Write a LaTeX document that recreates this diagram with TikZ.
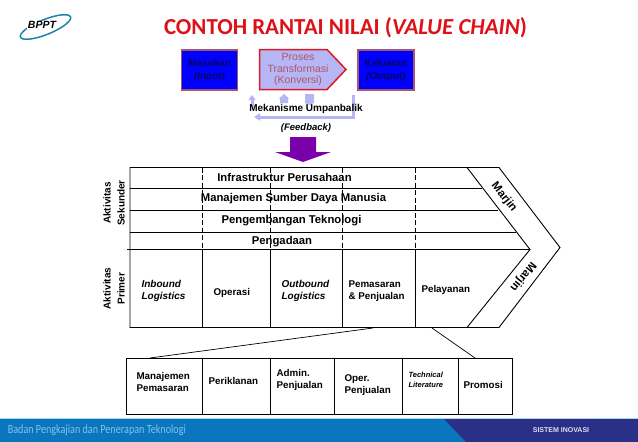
\documentclass[tikz,border=0pt]{standalone}
\usepackage{fontspec}
\setmainfont{Liberation Sans}
\newfontfamily\titlefont{Carlito}
\usetikzlibrary{arrows.meta,positioning,shapes.geometric}
\definecolor{titlered}{RGB}{222,16,24}
\definecolor{boxmauve}{RGB}{166,84,112}
\definecolor{inkblue}{RGB}{6,6,96}
\definecolor{lavblue}{RGB}{182,182,244}
\definecolor{prosesred}{RGB}{176,84,104}
\definecolor{borderred}{RGB}{220,24,40}
\definecolor{arrowpurple}{RGB}{122,0,170}
\definecolor{footblue}{RGB}{10,118,190}
\definecolor{footdark}{RGB}{42,48,136}
\definecolor{footlight}{RGB}{130,195,235}
\definecolor{logoteal}{RGB}{28,132,168}
\tikzset{
  titletext/.style={text=titlered,font=\titlefont\fontsize{22.9}{25}\selectfont\bfseries},
  ioblock/.style={rectangle,draw=boxmauve,line width=1.3pt,fill=blue,outer sep=0pt,minimum width=56pt,minimum height=40pt,align=center,text=inkblue,font=\fontsize{10}{13}\selectfont\bfseries},
  prosesblock/.style={draw=borderred,line width=1.5pt,fill=lavblue,line join=miter},
  prosestext/.style={align=center,text=prosesred,font=\fontsize{10.5}{11.6}\selectfont},
  fbarrow/.style={draw=lavblue,line width=3pt},
  fbfill/.style={fill=lavblue},
  fbtext/.style={font=\fontsize{10}{11}\selectfont\bfseries},
  chainline/.style={draw=black,line width=0.9pt},
  dashline/.style={chainline,dashed,dash pattern=on 5pt off 2.5pt},
  rowtext/.style={font=\fontsize{11.3}{13}\selectfont\bfseries},
  sidetext/.style={rotate=90,align=center,font=\fontsize{10}{14}\selectfont\bfseries},
  celltext/.style={anchor=west,align=left,font=\fontsize{9.8}{12}\selectfont\bfseries},
  italtext/.style={celltext,font=\fontsize{10}{12}\selectfont\bfseries\itshape},
  lowcell/.style={rectangle,draw=black,line width=0.9pt,outer sep=0pt,inner sep=0pt,minimum height=56pt},
  marjintext/.style={font=\fontsize{11.5}{12}\selectfont\bfseries},
  zoomline/.style={draw=black,line width=0.7pt}
}
\begin{document}
\begin{tikzpicture}[x=1pt,y=-1pt]
  \useasboundingbox (0,0) rectangle (638,442);

  \fill[footblue] (0,418) rectangle (638,442);
  \fill[footdark] (443,418) -- (638,418) -- (638,442) -- (466,442) -- cycle;
  \fill[footlight!70] (0,418) rectangle (638,419);
  \node[xscale=0.81,text=footlight,font=\titlefont\fontsize{12.5}{15}\selectfont,anchor=west] (footname) at (5,430.5) {Badan Pengkajian dan Penerapan Teknologi};
  \node[text=white!85!footdark,font=\fontsize{7}{8}\selectfont\bfseries] (footsistem) at (561,430) {SISTEM INOVASI};

  \node[ellipse,draw=logoteal,line width=1.5pt,rotate=22,minimum width=54pt,minimum height=15pt,inner sep=0pt] (logoring) at (45.5,27) {};
  \node[fill=white,inner sep=0.5pt,font=\fontsize{10.5}{12}\selectfont\bfseries\itshape] (logotext) at (42,25) {BPPT};

  \node[titletext] (title) at (345.5,28) {CONTOH RANTAI NILAI (\textit{VALUE CHAIN})};

  \node[ioblock] (masukan) at (209.5,70) {Masukan\\\textit{(Input)}};
  \node[ioblock] (keluaran) at (386,70) {Keluaran\\\textit{(Output)}};
  \draw[prosesblock] (259.5,49.5) -- (327,49.5) -- (346,69.5) -- (327,89.5) -- (259.5,89.5) -- cycle;
  \node[prosestext] (proses) at (298,69.5) {Proses\\Transformasi\\(Konversi)};

  \coordinate (fbstart) at (353,95);
  \coordinate (fbcorner) at (353,117);
  \coordinate (fbend) at (254,117);
  \coordinate (fbsmallfoot) at (252,107);
  \coordinate (fbsmalltop) at (252,95);
  \draw[fbarrow,-{Triangle[length=6pt,width=7pt]}] (fbstart) -- (fbcorner) -- (fbend);
  \draw[fbarrow,-{Triangle[length=5pt,width=7pt]}] (fbsmallfoot) -- (fbsmalltop);
  \fill[fbfill] (280,103) -- (280,98.5) -- (279,98.5) -- (284,94) -- (289,98.5) -- (288,98.5) -- (288,103) -- cycle;
  \fill[fbfill] (305,94) -- (314,94) -- (314,103) -- (309.5,105) -- (305,103) -- cycle;
  \node[fbtext] (mekanisme) at (306,109) {Mekanisme Umpanbalik};
  \node[fbtext,font=\fontsize{9.5}{11}\selectfont\bfseries\itshape] (feedback) at (306,128) {(Feedback)};

  \fill[arrowpurple] (290,137) -- (316,137) -- (316,152) -- (331,152) -- (303,162) -- (275,152) -- (290,152) -- cycle;

  \draw[chainline] (130,167.5) -- (499,167.5) -- (560,247.5) -- (499,327.5) -- (130,327.5) -- cycle;
  \draw[chainline] (467,167.5) -- (530,249.5) -- (467,327.5);
  \draw[chainline] (130,188) -- (482,188);
  \draw[chainline] (130,210.5) -- (498,210.5);
  \draw[chainline] (130,232.5) -- (516,232.5);
  \draw[chainline] (127,249.5) -- (530,249.5);
  \foreach \xcell in {202.5,270.5,342.5,415.5} {
    \draw[dashline] (\xcell,167.5) -- (\xcell,249.5);
    \draw[chainline] (\xcell,249.5) -- (\xcell,327.5);
  }

  \node[rowtext] (infra) at (284.5,177) {Infrastruktur Perusahaan};
  \node[rowtext] (sdm) at (293.5,199) {Manajemen Sumber Daya Manusia};
  \node[rowtext] (tekno) at (291.5,221) {Pengembangan Teknologi};
  \node[rowtext] (pengadaan) at (282,242) {Pengadaan};
  \node[sidetext] (sekunder) at (114,203) {Aktivitas\\Sekunder};
  \node[sidetext] (primer) at (114,288.5) {Aktivitas\\Primer};

  \node[italtext] (inbound) at (138,291) {Inbound\\Logistics};
  \node[celltext] (operasi) at (210,293) {Operasi};
  \node[italtext] (outbound) at (278,291) {Outbound\\Logistics};
  \node[celltext] (pemasaran) at (345,291) {Pemasaran\\\& Penjualan};
  \node[celltext] (pelayanan) at (418,290) {Pelayanan};
  \node[marjintext,rotate=-52] (marjinatas) at (504,197) {Marjin};
  \node[marjintext,rotate=-129] (marjinbawah) at (523,277) {Marjin};

  \node[lowcell,minimum width=75.5pt] (cmanajemen) at (164.25,386) {};
  \node[lowcell,minimum width=68pt,right=0pt of cmanajemen] (cperiklanan) {};
  \node[lowcell,minimum width=64pt,right=0pt of cperiklanan] (cadmin) {};
  \node[lowcell,minimum width=68pt,right=0pt of cadmin] (coper) {};
  \node[lowcell,minimum width=56pt,right=0pt of coper] (ctechnical) {};
  \node[lowcell,minimum width=54.5pt,right=0pt of ctechnical] (cpromosi) {};
  \node[celltext] (manajemen) at (133,381.5) {Manajemen\\Pemasaran};
  \node[celltext] (periklanan) at (205,381) {Periklanan};
  \node[celltext] (admin) at (273,380) {Admin.\\Penjualan};
  \node[celltext] (oper) at (341,385) {Oper.\\Penjualan};
  \node[celltext,font=\fontsize{7.5}{10.5}\selectfont\bfseries\itshape] (technical) at (405,380) {Technical\\Literature};
  \node[celltext] (promosi) at (460,385) {Promosi};

  \coordinate (zoomleft) at (373,328);
  \coordinate (zoomright) at (432,328);
  \coordinate (lowleft) at (150,358);
  \coordinate (lowright) at (475,358);
  \draw[zoomline] (zoomleft) -- (lowleft);
  \draw[zoomline] (zoomright) -- (lowright);
\end{tikzpicture}
\end{document}
